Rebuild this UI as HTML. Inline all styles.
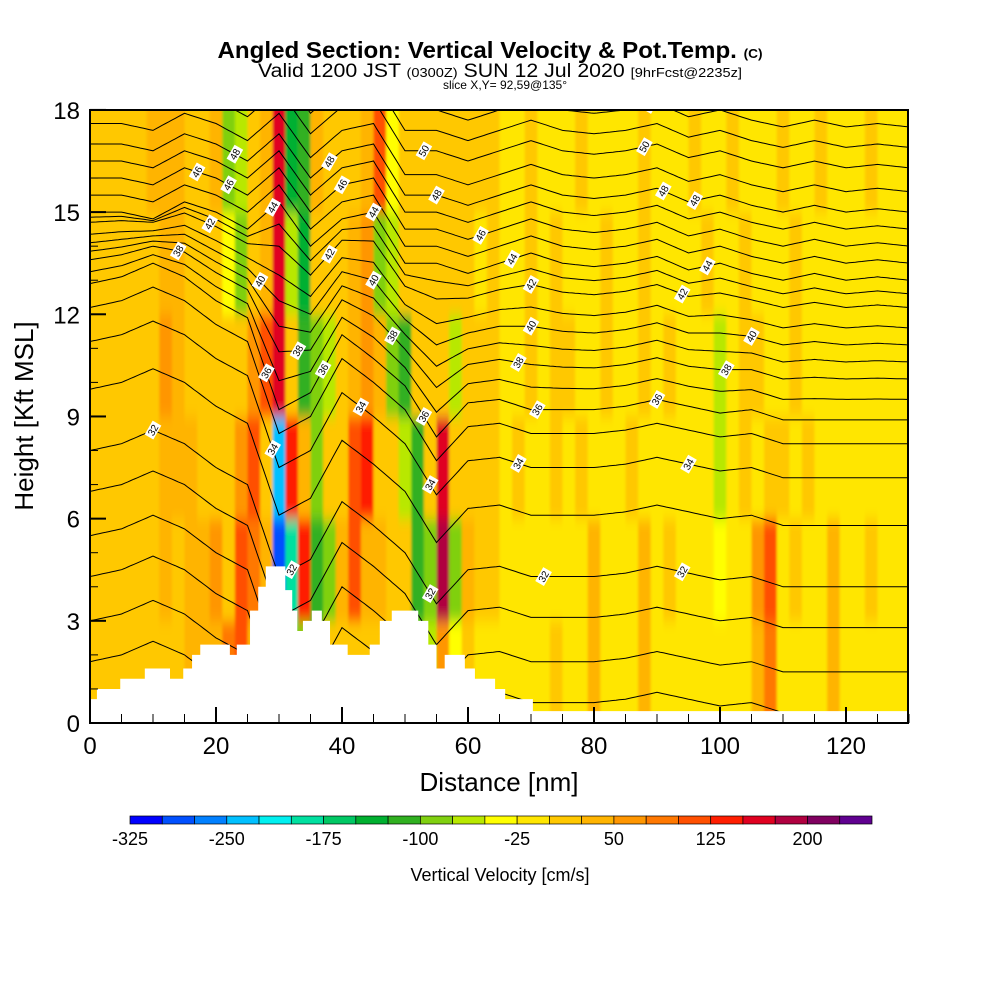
<!DOCTYPE html>
<html><head><meta charset="utf-8">
<style>
body{margin:0;background:#fff;}
svg text{font-family:"Liberation Sans",sans-serif;}
</style></head>
<body>
<svg id="chart" width="1000" height="1000" viewBox="0 0 1000 1000" xmlns="http://www.w3.org/2000/svg">
<text x="490" y="58" text-anchor="middle" font-size="23" font-weight="bold" textLength="545" lengthAdjust="spacingAndGlyphs">Angled Section: Vertical Velocity &amp; Pot.Temp. <tspan font-size="13">(C)</tspan></text>
<text x="500" y="77" text-anchor="middle" font-size="19" textLength="484" lengthAdjust="spacingAndGlyphs">Valid 1200 JST <tspan font-size="13">(0300Z)</tspan> SUN 12 Jul 2020 <tspan font-size="13">[9hrFcst@2235z]</tspan></text>
<text x="505" y="89" text-anchor="middle" font-size="12">slice X,Y= 92,59@135°</text>
<defs>
<clipPath id="pc"><rect x="90" y="110" width="818" height="613"/></clipPath>
<filter id="bl" x="-5%" y="-5%" width="110%" height="110%"><feGaussianBlur stdDeviation="1.2 7"/></filter>
</defs>
<g clip-path="url(#pc)"><g id="field" filter="url(#bl)"></g></g>
<g id="contours" clip-path="url(#pc)"></g>
<g id="terrain" clip-path="url(#pc)"></g>
<g id="labels" clip-path="url(#pc)"></g>
<rect x="90" y="110" width="818" height="613" fill="none" stroke="#000" stroke-width="2"/>
<g id="axes"></g>
<text x="499" y="791" text-anchor="middle" font-size="26">Distance [nm]</text>
<text transform="translate(33,416) rotate(-90)" text-anchor="middle" font-size="26">Height [Kft MSL]</text>
<g id="cbar"></g>
<text x="500" y="881" text-anchor="middle" font-size="18">Vertical Velocity [cm/s]</text>
</svg>
<script>
// ---- data ----
const palette=["#0000ff","#0050ff","#0080ff","#00c0ff","#00f0f0","#00e0a0","#00c864","#00b030","#30b020","#80d010","#b8e800","#ffff00","#ffe600","#ffc800","#ffb400","#ff9600","#ff7800","#ff5000","#ff1e00","#e00020","#b00040","#800060","#600090"];
const cbarLabels=[-325,-250,-175,-100,-25,50,125,200];
const xTicks=[0,20,40,60,80,100,120];
const yTicks=[0,3,6,9,12,15,18];
// vertical velocity by 3-kft band (bottom->top), columns every 2 nm
const velB0=[10,10,10,10,10,10,10,10,30,40,40,80,100,40,40,40,-100,-100,-125,10,10,10,10,10,10,10,-100,-75,60,-50,10,-10,-10,-10,-10,-10,-10,10,-10,-10,40,-10,-10,-10,40,-10,-10,-10,-10,-10,-10,-10,-10,40,80,-10,-10,-10,-10,40,-10,-10,-10,-10];
const velB1=[10,10,10,10,10,20,40,10,30,40,60,10,120,80,40,-300,-200,140,-125,-100,30,100,30,30,10,10,-125,-100,180,-100,30,20,10,-10,-10,-10,-10,-10,-10,-10,40,-10,-10,-10,40,-10,10,-10,-10,-10,-50,-10,-10,60,100,-10,10,-10,-10,40,-10,-10,10,-10];
const velB2=[10,10,10,10,10,10,40,40,30,10,10,10,60,120,10,-250,140,30,-100,10,10,100,130,10,10,-75,-125,10,170,10,10,10,10,-10,10,-10,-10,10,-10,10,-10,-10,-10,10,-10,-10,-10,-10,-10,-10,-75,-10,10,-10,20,10,-10,10,-10];
const velB3=[10,10,10,10,10,20,50,40,10,10,10,10,20,60,100,160,10,-125,-100,-60,10,40,60,30,-100,-125,10,10,10,-75,10,10,10,-10,-10,10,-10,10,10,-10,-10,10,-10,-10,10,-10,10,-10,-10,-10,-75,-10,10,10,-10,-10,10,-10];
const velB4=[10,10,10,10,10,10,40,40,10,10,10,-50,-100,10,40,170,-75,-150,10,10,10,40,60,-100,-75,10,10,10,10,10,10,-10,10,-10,-10,10,-10,10,-10,-10,-10,10,-10,-10,10,-10,-10,-10,-10,10,-10,-10,10,-10,-10,-10,10,-10];
const velB5=[10,10,10,10,10,30,40,30,10,10,30,-100,-75,10,30,160,-150,-120,30,10,10,10,40,100,-50,10,10,10,10,10,10,10,10,-10,-10,10,-10,-10,-10,10,-10,-10,-10,-10,10,-10,-10,-10,10,-10,-10,10,-10,-10,-10,10,-10,-10,10,-10,-10,-10,10,-10,-10,-10];
// potential temperature contours
const thetaLevels=[26,27,28,29,30,31,32,33,34,35,36,37,38,39,40,41,42,43,44,45,46,47,48,49,50,51,52];
const thetaBase=[-3.4,-2.2,-1.0,0.3,1.5,2.8,4.0,5.8,7.2,8.2,8.9,9.5,10.1,10.6,11.1,11.6,12.2,12.6,13.0,13.5,14.0,14.5,15.0,15.6,16.3,16.9,17.5];
const dispLow=[4.0,4.2,4.6,4.2,3.5,3.0,0.3,0.8,2.5,1.8,1.0,-0.5,0.5,0.6,0.3,0.3,0.3,0.4,0.6,0.4,0.2,0.3,0,0,0,0,0];
const dispHigh=[2.0,2.0,1.8,2.3,2.0,1.5,2.3,1.0,1.8,2.0,0.5,0.5,0.2,0.5,0.8,0.5,0.4,0.5,0.7,0.3,0.5,0.2,0,0.2,0,0.1,0];
const labelSpots=[[32,10],[38,14],[42,19],[46,17],[48,23],[46,22],[40,27],[36,28],[34,29],[32,32],[44,29],[38,33],[36,37],[42,38],[46,40],[48,38],[44,45],[40,45],[38,48],[34,43],[36,53],[34,54],[32,54],[50,53],[48,55],[46,62],[44,67],[42,70],[40,70],[38,68],[36,71],[34,68],[32,72],[52,89],[50,88],[48,91],[48,96],[44,98],[42,94],[40,105],[38,101],[36,90],[34,95],[32,94]];
// terrain steps [start nm, height kft]
const terrNm=[0,1.1,4.8,8.7,12.7,14.8,16.2,17.5,22.2,23.3,25.4,26.7,27.9,31,32.1,32.9,33.8,35.2,36.8,38.1,40.9,44.4,46,47.9,52.1,53.7,55,56.3,59.5,61.1,64.3,65.9,70.3,130];
const terrH=[0.7,1.0,1.3,1.6,1.3,1.6,2.0,2.3,2.0,2.3,3.3,4.0,4.6,3.9,3.3,2.7,3.0,3.3,3.0,2.3,2.0,2.3,3.0,3.3,3.0,2.3,1.6,2.0,1.6,1.3,1.0,0.7,0.35,0.35];

// ---- axes fns ----
const X=n=>90+n*6.3, Y=k=>723-k*34.06;
const NS="http://www.w3.org/2000/svg";
function mk(t,a,p){const e=document.createElementNS(NS,t);for(const k in a)e.setAttribute(k,a[k]);p.appendChild(e);return e;}
function colorOf(v){let i=Math.floor((v+325)/25);i=Math.max(0,Math.min(22,i));return palette[i];}

// field
const field=document.getElementById('field');
const bands=[velB0,velB1,velB2,velB3,velB4,velB5];
bands.forEach((arr,b)=>{
  for(let i=0;i<66;i++){
    const v=arr[i]===undefined?-10:arr[i];
    const top=b===5?Y(20):Y(b*3+3), bot=b===0?Y(-2):Y(b*3);
    const r=mk('rect',{x:X(i*2-1),y:top,width:6.3*2+0.5,height:bot-top+0.5,fill:colorOf(v)},field);
    
    
  }
});

// contours
function interp(arr,n){const f=n/5,i=Math.min(Math.floor(f),arr.length-2),t=f-i;return arr[i]*(1-t)+arr[i+1]*t;}
function thetaH(li,n){const lv=thetaLevels[li];const w=Math.max(0,Math.min(1,(lv-36)/8));return thetaBase[li]+(1-w)*interp(dispLow,n)+w*interp(dispHigh,n);}
const cg=document.getElementById('contours');
thetaLevels.forEach((lv,li)=>{
  let d='';
  for(let n=0;n<=130;n+=0.5){d+=(n?'L':'M')+X(n).toFixed(1)+' '+Y(thetaH(li,n)).toFixed(1);}
  const p=mk('path',{d:d,fill:'none',stroke:'#000','stroke-width':1},cg);
  
  
});

// terrain
const tg=document.getElementById('terrain');
let td='M'+X(0)+' '+Y(-1);
for(let i=0;i<terrNm.length-1;i++){td+='L'+X(terrNm[i])+' '+Y(terrH[i])+'L'+X(terrNm[i+1])+' '+Y(terrH[i]);}
td+='L'+X(130)+' '+Y(-1)+'Z';
const tp=mk('path',{d:td,fill:'#fff',stroke:'none'},tg);



// labels
const lg=document.getElementById('labels');
labelSpots.forEach(([lv,n])=>{
  const li=thetaLevels.indexOf(lv);const x=X(n),y=Y(thetaH(li,n));
  const g=mk('g',{transform:`translate(${x},${y}) rotate(-60)`},lg);
  
  
  mk('rect',{x:-8,y:-5,width:16,height:10,fill:'#fff'},g);
  const t=mk('text',{x:0,y:3.5,'font-size':10,'text-anchor':'middle'},g);t.textContent=lv;
});

// axes
const ax=document.getElementById('axes');
for(let n=0;n<=130;n+=5){const maj=n%20===0;
  const l=mk('line',{x1:X(n),x2:X(n),y1:723,y2:723-(maj?16:9),stroke:'#000','stroke-width':maj?2:1},ax);
  }
xTicks.forEach(n=>{const t=mk('text',{x:X(n),y:754,'text-anchor':'middle','font-size':24},ax);t.textContent=n;
  });
for(let k=0;k<=18;k++){const maj=k%3===0;
  const l=mk('line',{x1:90,x2:90+(maj?16:8),y1:Y(k),y2:Y(k),stroke:'#000','stroke-width':maj?2:1},ax);
  }
yTicks.forEach(k=>{const t=mk('text',{x:80,y:Y(k)+9,'text-anchor':'end','font-size':24},ax);t.textContent=k;
  });

// colorbar
const cb=document.getElementById('cbar');
const bw=(872-130)/palette.length;
palette.forEach((c,i)=>{const r=mk('rect',{x:130+i*bw,y:816,width:bw,height:8,fill:c,stroke:'#000','stroke-width':0.7},cb);
  });
cbarLabels.forEach(v=>{const i=(v+325)/25;const t=mk('text',{x:130+i*bw,y:845,'text-anchor':'middle','font-size':18},cb);t.textContent=v;
  });
</script>
</body></html>
